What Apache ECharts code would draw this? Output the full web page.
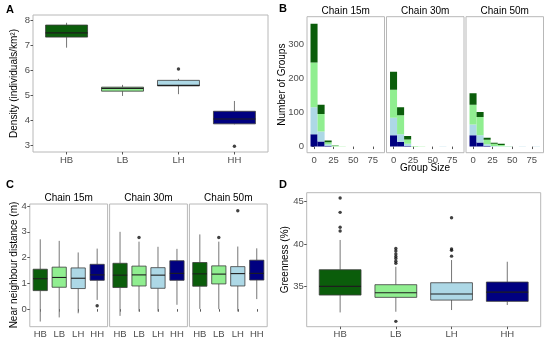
<!DOCTYPE html>
<html><head><meta charset="utf-8">
<script src="https://cdn.jsdelivr.net/npm/echarts@6/dist/echarts.min.js"></script>
<style>html,body{margin:0;padding:0;background:#fff}#c{width:550px;height:341px}</style>
</head><body><div id="c"></div>
<script>
// ---------- data ----------
const groups = ['HB', 'LB', 'LH', 'HH'];

// A: density boxes [low whisker, Q1, median, Q3, high whisker]
const densityBoxes = [
  [6.90, 7.32, 7.49, 7.80, 7.89],
  [4.98, 5.17, 5.28, 5.33, 5.42],
  [5.05, 5.38, 5.40, 5.60, 5.66],
  [3.85, 3.87, 4.06, 4.37, 4.78]
];
const densityOutliers = [[3, 6.05], [4, 2.98]];
const densityTicks = [3, 4, 5, 6, 7, 8];

// B: group-size histograms (counts per bin, bins centred at binCenters)
const chains = ['Chain 15m', 'Chain 30m', 'Chain 50m'];
const binCenters = [0, 9, 18, 27, 36, 45, 54, 63, 72, 81];
const binWidth = 9;
const c15HH = [36, 15, 2, 0, 0, 0, 0, 0, 0, 0];
const c15LH = [80, 29, 5, 0, 0, 0, 0, 0, 0, 0];
const c15LB = [131, 52, 6, 3, 1, 0, 0, 0, 0, 0];
const c15HB = [114, 27, 5, 1, 0, 0, 0, 0, 0, 0];
const c30HH = [33, 14, 2, 0, 0, 0, 0, 0, 0, 0];
const c30LH = [52, 22, 6, 0, 0, 0, 0, 1, 0, 0];
const c30LB = [82, 56, 13, 2, 1, 0, 0, 0, 0, 0];
const c30HB = [53, 24, 10, 0, 0, 0, 0, 0, 0, 0];
const c50HH = [33, 12, 2, 0, 0, 0, 0, 0, 0, 0];
const c50LH = [32, 21, 5, 2, 1, 1, 0, 1, 0, 1];
const c50LB = [58, 54, 13, 6, 4, 1, 0, 0, 0, 0];
const c50HB = [34, 15, 6, 3, 3, 0, 0, 0, 0, 0];
const groupSizeTicks = [0, 25, 50, 75];
const groupCountTicks = [0, 100, 200, 300];

// C: near neighbour distance boxes per chain
const nnd15 = [
  [-0.48, 0.72, 1.18, 1.55, 2.71],
  [-0.32, 0.85, 1.23, 1.63, 2.65],
  [-0.16, 0.80, 1.20, 1.60, 2.20],
  [0.36, 1.12, 1.33, 1.74, 2.35]
];
const nnd30 = [
  [-0.26, 0.84, 1.32, 1.78, 3.00],
  [-0.09, 0.90, 1.33, 1.67, 2.62],
  [-0.09, 0.81, 1.32, 1.61, 2.42],
  [0.17, 1.12, 1.39, 1.88, 2.34]
];
const nnd50 = [
  [0.01, 0.89, 1.37, 1.81, 2.90],
  [0.00, 0.98, 1.36, 1.68, 2.62],
  [-0.09, 0.90, 1.38, 1.65, 2.43],
  [0.39, 1.13, 1.39, 1.90, 2.36]
];
const nndOut15 = [[4, 0.13]];
const nndOut30 = [[2, 2.78]];
const nndOut50 = [[2, 2.78], [3, 3.82]];
const nndTicks = [0, 1, 2, 3, 4];

// D: greenness boxes
const greenBoxes = [
  [31.98, 34.02, 35.04, 37.00, 40.50],
  [32.06, 33.75, 34.30, 35.24, 37.35],
  [32.26, 33.43, 34.14, 35.47, 38.14],
  [32.85, 33.28, 34.37, 35.55, 37.94]
];
const greenOutliers = [
  [1, 45.43], [1, 43.75], [1, 42.0], [1, 41.55],
  [2, 39.5], [2, 39.2], [2, 38.85], [2, 38.57], [2, 38.33], [2, 38.0], [2, 37.75], [2, 30.93],
  [3, 43.12], [3, 39.43], [3, 39.28], [3, 38.6]
];
const greenTicks = [35, 40, 45];

// ---------- style ----------
const FONT = 'Liberation Sans, Arial, sans-serif';
const fills = { HB: '#0b5d0b', LB: '#90ee90', LH: '#add8e6', HH: '#000080' };
const tickColor = '#4d4d4d';

const chart = echarts.init(document.getElementById('c'), null, { renderer: 'canvas' });

const grids = [
  { left: 33, top: 15, width: 235, height: 137 },          // A
  { left: 307, top: 16.7, width: 77.5, height: 136 },      // B1
  { left: 386.5, top: 16.7, width: 77.5, height: 136 },    // B2
  { left: 466, top: 16.7, width: 77.5, height: 136 },      // B3
  { left: 29.8, top: 204, width: 77.8, height: 122.7 },    // C1
  { left: 109.6, top: 204, width: 77.8, height: 122.7 },   // C2
  { left: 189.4, top: 204, width: 77.8, height: 122.7 },   // C3
  { left: 306.7, top: 192.7, width: 234, height: 134 }     // D
].map(g => Object.assign({ show: true, borderColor: '#b8b8b8', borderWidth: 1, backgroundColor: '#fff', containLabel: false, outerBoundsMode: 'none' }, g));

function axisBase(gi, min, max, ticks, showLabels, fmt, margin) {
  return {
    type: 'value', gridIndex: gi, min: min, max: max,
    axisLine: { show: false },
    splitLine: { show: false },
    axisTick: { show: true, length: 2.5, lineStyle: { color: '#555', width: 1 }, customValues: ticks },
    axisLabel: { show: showLabels, customValues: ticks, formatter: fmt || (v => String(v)), color: tickColor, fontSize: 9.5, fontFamily: FONT, margin: margin == null ? 3 : margin }
  };
}
const catFmt = v => groups[Math.round(v) - 1];

const xAxes = [], yAxes = [];
// A
xAxes.push(axisBase(0, 0.4, 4.6, [1, 2, 3, 4], true, catFmt, 3));
yAxes.push(axisBase(0, 2.75, 8.2, densityTicks, true));
// B
for (let k = 0; k < 3; k++) {
  xAxes.push(axisBase(1 + k, -9, 90, groupSizeTicks, true, null, 3));
  yAxes.push(axisBase(1 + k, -18, 382, groupCountTicks, k === 0));
  if (k > 0) yAxes[yAxes.length - 1].axisTick.show = false;
}
// C
for (let k = 0; k < 3; k++) {
  xAxes.push(axisBase(4 + k, 0.45, 4.55, [1, 2, 3, 4], true, catFmt, 3));
  yAxes.push(axisBase(4 + k, -0.68, 4.08, nndTicks, k === 0));
  if (k > 0) yAxes[yAxes.length - 1].axisTick.show = false;
}
// D
xAxes.push(axisBase(7, 0.4, 4.6, [1, 2, 3, 4], true, catFmt, 3));
yAxes.push(axisBase(7, 30.3, 46.06, greenTicks, true));

function boxRender(params, api) {
  const x = api.value(0), lo = api.value(1), q1 = api.value(2), md = api.value(3), q3 = api.value(4), hi = api.value(5);
  const gi = api.value(6);
  const hw = 0.375;
  const pHi = api.coord([x, hi]), pQ3 = api.coord([x, q3]), pQ1 = api.coord([x, q1]), pLo = api.coord([x, lo]);
  const tl = api.coord([x - hw, q3]), br = api.coord([x + hw, q1]);
  const mL = api.coord([x - hw, md]), mR = api.coord([x + hw, md]);
  return {
    type: 'group', children: [
      { type: 'line', shape: { x1: pHi[0], y1: pHi[1], x2: pQ3[0], y2: pQ3[1] }, style: { stroke: '#767676', lineWidth: 1 } },
      { type: 'line', shape: { x1: pLo[0], y1: pLo[1], x2: pQ1[0], y2: pQ1[1] }, style: { stroke: '#767676', lineWidth: 1 } },
      { type: 'rect', shape: { x: tl[0], y: tl[1], width: br[0] - tl[0], height: br[1] - tl[1] }, style: { fill: fills[groups[gi]], stroke: '#3c3c3c', lineWidth: 0.8 } },
      { type: 'line', shape: { x1: mL[0], y1: mL[1], x2: mR[0], y2: mR[1] }, style: { stroke: '#1e1e1e', lineWidth: 1.1 } }
    ]
  };
}
function boxSeries(gi, boxes) {
  return {
    type: 'custom', xAxisIndex: gi, yAxisIndex: gi, renderItem: boxRender,
    encode: { x: 0, y: [1, 5] },
    data: boxes.map((b, i) => [i + 1, b[0], b[1], b[2], b[3], b[4], i]),
    z: 2
  };
}
function outSeries(gi, pts) {
  return {
    type: 'scatter', xAxisIndex: gi, yAxisIndex: gi, symbol: 'circle', symbolSize: 3.4,
    itemStyle: { color: '#111' }, data: pts, z: 3, silent: true
  };
}
function histRender(params, api) {
  const c = api.value(0), y0 = api.value(1), y1 = api.value(2), gi = api.value(3);
  const a = api.coord([c - binWidth / 2, y1]), b = api.coord([c + binWidth / 2, y0]);
  return { type: 'rect', shape: { x: a[0], y: a[1], width: b[0] - a[0], height: b[1] - a[1] }, style: { fill: fills[groups[gi]] } };
}
function histSeries(gi, hh, lh, lb, hb) {
  const order = [[3, hh], [2, lh], [1, lb], [0, hb]]; // stacked bottom to top
  const data = [];
  binCenters.forEach((c, i) => {
    let base = 0;
    order.forEach(([g, arr]) => {
      const v = arr[i];
      if (v > 0) { data.push([c, base, base + v, g]); base += v; }
    });
  });
  return { type: 'custom', xAxisIndex: gi, yAxisIndex: gi, renderItem: histRender, encode: { x: 0, y: [1, 2] }, data: data, clip: true };
}

const series = [
  boxSeries(0, densityBoxes), outSeries(0, densityOutliers),
  histSeries(1, c15HH, c15LH, c15LB, c15HB),
  histSeries(2, c30HH, c30LH, c30LB, c30HB),
  histSeries(3, c50HH, c50LH, c50LB, c50HB),
  boxSeries(4, nnd15), outSeries(4, nndOut15),
  boxSeries(5, nnd30), outSeries(5, nndOut30),
  boxSeries(6, nnd50), outSeries(6, nndOut50),
  boxSeries(7, greenBoxes), outSeries(7, greenOutliers)
];

function txt(text, x, y, size, opts) {
  opts = opts || {};
  return {
    type: 'text', x: x, y: y, rotation: opts.rot || 0, z: 10,
    style: {
      text: text, fill: opts.color || '#000', font: (opts.bold ? 'bold ' : '') + size + 'px ' + FONT,
      align: opts.align || 'center', verticalAlign: 'middle', textAlign: opts.align || 'center', textVerticalAlign: 'middle'
    }
  };
}
const graphics = [
  txt('A', 6, 10, 11, { bold: true, align: 'left' }),
  txt('B', 279, 9, 11, { bold: true, align: 'left' }),
  txt('C', 6, 185, 11, { bold: true, align: 'left' }),
  txt('D', 279, 185, 11, { bold: true, align: 'left' }),
  txt('Density (individuals/km²)', 14.5, 83.5, 10, { rot: Math.PI / 2 }),
  txt('Number of Groups', 282, 84.7, 10, { rot: Math.PI / 2 }),
  txt('Near neighbour distance (m)', 14.5, 265, 10, { rot: Math.PI / 2 }),
  txt('Greenness (%)', 285.5, 259.7, 10, { rot: Math.PI / 2 }),
  txt('Group Size', 425, 168.5, 10)
];
chains.forEach((name, k) => {
  graphics.push(txt(name, grids[1 + k].left + grids[1 + k].width / 2, 10.8, 10));
  graphics.push(txt(name, grids[4 + k].left + grids[4 + k].width / 2, 198.3, 10));
});

chart.setOption({
  animation: false,
  backgroundColor: '#fff',
  grid: grids,
  xAxis: xAxes,
  yAxis: yAxes,
  series: series,
  graphic: { elements: graphics }
});
</script>
</body></html>
